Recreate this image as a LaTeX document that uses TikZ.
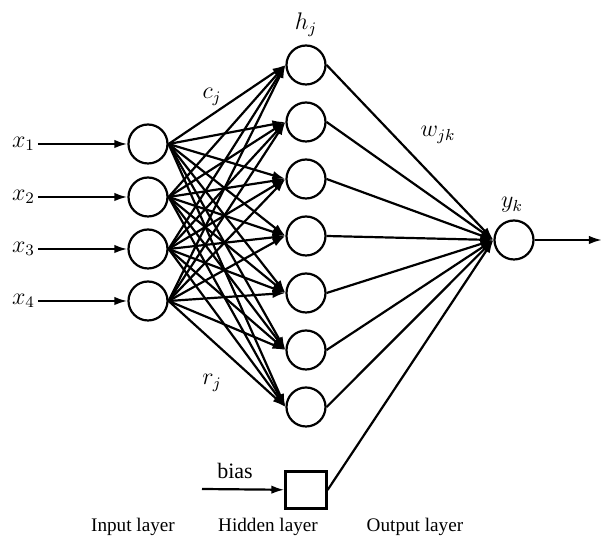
\documentclass[tikz,border=0pt]{standalone}
\usepackage{fontspec}
\setmainfont{Liberation Serif}
\usetikzlibrary{arrows.meta}

\begin{document}
\begin{tikzpicture}[x=0.5pt, y=-0.5pt, line width=1.1pt,
    neuron/.style={circle, draw, minimum size=19.5pt, inner sep=0pt},
    biasbox/.style={rectangle, draw, minimum width=20.5pt, minimum height=18.5pt, inner sep=0pt},
    link/.style={-{Latex[length=6.5pt,width=4.2pt]}},
    lbl/.style={font=\fontsize{12}{14}\selectfont, inner sep=1pt},
    layer/.style={font=\fontsize{9.6}{11}\selectfont}]
    \useasboundingbox (0,0) rectangle (602,539);

    % Input layer
    \foreach \i/\y in {1/144,2/197,3/249,4/301} {
        \node[neuron] (i\i) at (148,\y) {};
        \node[lbl, anchor=east] (x\i) at (38,\y) {$x_\i$};
        \draw[link] (x\i) -- (i\i);
    }

    % Hidden layer
    \foreach \j in {1,...,7}
        \node[neuron] (h\j) at (306,{65+57*(\j-1)}) {};

    % Output layer
    \node[neuron] (o) at (514,240) {};
    \coordinate (out) at (602,240);
    \draw[link] (o) -- (out);

    % Bias
    \node[biasbox] (b) at (306,490) {};
    \coordinate (bin) at (202,489);
    \node[layer, font=\fontsize{11}{13}\selectfont] (biastxt) at (235,471) {bias};
    \draw[link] (bin) -- (b);

    % Weights
    \foreach \i in {1,...,4}
        \foreach \j in {1,...,7}
            \draw[link] (i\i.east) -- (h\j.west);
    \foreach \j in {1,...,7}
        \draw[link] (h\j.east) -- (o.west);
    \draw[link] (b.east) -- (o.west);

    % Labels
    \node[lbl] (hj) at (306,25) {$h_j$};
    \node[lbl] (cj) at (212,97) {$c_j$};
    \node[lbl] (wjk) at (438,135) {$w_{jk}$};
    \node[lbl] (yk) at (512,205) {$y_k$};
    \node[lbl] (rj) at (212,383) {$r_j$};

    \node[layer] (inl) at (133,527) {Input layer};
    \node[layer] (hidl) at (268,527) {Hidden layer};
    \node[layer] (outl) at (415,527) {Output layer};
\end{tikzpicture}
\end{document}
